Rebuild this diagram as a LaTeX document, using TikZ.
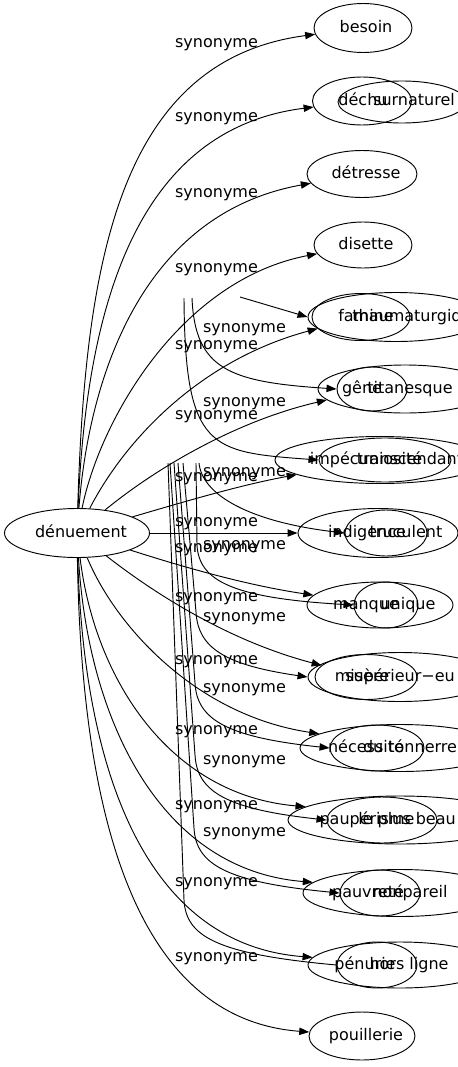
\documentclass[tikz,border=0pt]{standalone}
\usepackage{fontspec}
\setmainfont{DejaVu Sans}
\usetikzlibrary{arrows.meta,shapes.geometric}

\begin{document}
\begin{tikzpicture}[
    x=0.75pt, y=-0.75pt,
    font=\fontsize{12}{14}\selectfont,
    oval/.style 2 args={ellipse, draw, line width=0.7pt, inner sep=0pt, minimum width=#1*0.75pt, minimum height=#2*0.75pt},
    word/.style={inner sep=0pt, text height=8.8pt, text depth=2.6pt},
    rel/.style={inner sep=0pt, text height=8.8pt, text depth=2.6pt},
    arrow/.style={-{Triangle[length=7.5pt, width=5.5pt]}, line width=0.7pt},
    stub/.style={line width=0.7pt}
]
\useasboundingbox (0,0) rectangle (457,1067);

% Source
\node[oval={145}{49}] (den) at (77,533) {};
\node[word] (den_t) at (81,533) {dénuement};

% Targets (first graph)
\node[oval={98}{49}] (besoin) at (363,28) {};
\node[oval={99}{48}] (dechu) at (362,101) {};
\node[oval={110}{47}] (detresse) at (362,174) {};
\node[oval={98}{46}] (disette) at (363,245) {};
\node[oval={98}{47}] (famine) at (361,317) {};
\node[oval={174}{48}] (gene) at (405,389) {};
\node[oval={210}{47}] (impec) at (380,460) {};
\node[oval={160}{49}] (indig) at (378,533) {};
\node[oval={146}{46}] (manque) at (380,605) {};
\node[oval={102}{45}] (misere) at (366,677) {};
\node[oval={200}{47}] (necess) at (400,748) {};
\node[oval={224}{48}] (pauper) at (400,820) {};
\node[oval={194}{47}] (pauvre) at (400,893) {};
\node[oval={184}{46}] (penurie) at (400,965) {};
\node[oval={106}{48}] (pouill) at (362,1036) {};

\node[word] (besoin_t) at (366,28) {besoin};
\node[word] (dechu_t) at (363,101) {déchu};
\node[word] (detresse_t) at (366,174) {détresse};
\node[word] (disette_t) at (366,245) {disette};
\node[word] (famine_t) at (366,317) {famine};
\node[word] (gene_t) at (362,389) {gêne};
\node[word] (impec_t) at (366,460) {impécuniosité};
\node[word] (indig_t) at (367,533) {indigence};
\node[word] (manque_t) at (366,605) {manque};
\node[word] (misere_t) at (362,677) {misère};
\node[word] (necess_t) at (366,748) {nécessité};
\node[word] (pauper_t) at (367,820) {paupérisme};
\node[word] (pauvre_t) at (368,893) {pauvreté};
\node[word] (penurie_t) at (365,965) {pénurie};
\node[word] (pouill_t) at (366,1036) {pouillerie};

% Targets (second graph, drawn over)
\node[oval={128}{42}] (surnat) at (402,102) {};
\node[oval={176}{49}] (thaum) at (396,317) {};
\node[oval={70}{44}] (titan) at (372,389) {};
\node[oval={132}{44}] (transc) at (385,460) {};
\node[oval={82}{46}] (trucul) at (386,533) {};
\node[oval={64}{46}] (unique) at (386,605) {};
\node[oval={184}{49}] (superi) at (400,677) {};
\node[oval={94}{46}] (tonner) at (377,748) {};
\node[oval={110}{46}] (plusbeau) at (382,820) {};
\node[oval={80}{46}] (nonpar) at (380,893) {};
\node[oval={80}{46}] (horslig) at (377,965) {};

\node[word] (surnat_t) at (414,101) {surnaturel};
\node[word] (thaum_t) at (417,317) {thaumaturgique};
\node[word] (titan_t) at (410,389) {titanesque};
\node[word] (transc_t) at (410,460) {transcendant};
\node[word] (trucul_t) at (406,533) {truculent};
\node[word] (unique_t) at (408,605) {unique};
\node[word] (superi_t) at (400,677) {supérieur−eu};
\node[word] (tonner_t) at (410,748) {du tonnerre};
\node[word] (plusbeau_t) at (407,820) {le plus beau};
\node[word] (nonpar_t) at (410,893) {nonpareil};
\node[word] (horslig_t) at (409,965) {hors ligne};

% Arrows from dénuement
\draw[arrow] (den) .. controls (85,260) and (120,60) .. (besoin);
\draw[arrow] (den) .. controls (86,320) and (130,130) .. (dechu);
\draw[arrow] (den) .. controls (88,390) and (135,215) .. (detresse);
\draw[arrow] (den) .. controls (100,420) and (180,280) .. (disette);
\draw[arrow] (den) .. controls (125,440) and (200,360) .. (famine);
\draw[arrow] (den) .. controls (160,465) and (240,420) .. (gene.188);
\draw[arrow] (den) .. controls (180,503) and (240,485) .. (impec.190);
\draw[arrow] (den) -- (indig);
\draw[arrow] (den) .. controls (180,566) and (245,585) .. (manque);
\draw[arrow] (den) .. controls (150,590) and (225,640) .. (misere);
\draw[arrow] (den) .. controls (115,625) and (195,715) .. (necess.170);
\draw[arrow] (den) .. controls (95,680) and (170,795) .. (pauper.172);
\draw[arrow] (den) .. controls (88,720) and (160,870) .. (pauvre.173);
\draw[arrow] (den) .. controls (84,780) and (150,945) .. (penurie.175);
\draw[arrow] (den) .. controls (82,850) and (150,1020) .. (pouill);

% Labels
\node[rel] (l1) at (216.5,43) {synonyme};
\node[rel] (l2) at (216.5,117) {synonyme};
\node[rel] (l3) at (216.5,193) {synonyme};
\node[rel] (l4) at (216.5,268) {synonyme};
\node[rel] (l5) at (216.5,345) {synonyme};
\node[rel] (l6) at (216.5,415) {synonyme};
\node[rel] (l7) at (216.5,477) {synonyme};
\node[rel] (l8) at (216.5,522) {synonyme};
\node[rel] (l9) at (216.5,548) {synonyme};
\node[rel] (l10) at (216.5,597) {synonyme};
\node[rel] (l11) at (216.5,660) {synonyme};
\node[rel] (l12) at (216.5,730) {synonyme};
\node[rel] (l13) at (216.5,805) {synonyme};
\node[rel] (l14) at (216.5,882) {synonyme};
\node[rel] (l15) at (216.5,957) {synonyme};

% Second graph edges (cut off at the top)
\coordinate (s5) at (240,297);
\coordinate (s6) at (192,298);
\coordinate (s7) at (184,298);
\coordinate (s8) at (199,463);
\coordinate (s9) at (196,463);
\coordinate (s10) at (183,463);
\coordinate (s11) at (178,463);
\coordinate (s12) at (174,463);
\coordinate (s13) at (170,463);
\coordinate (s14) at (168,463);

\draw[arrow] (s5) -- (thaum.west);
\draw[arrow] (s6) .. controls (195,370) and (230,382) .. (titan.west);
\draw[arrow] (s7) .. controls (185,450) and (210,452) .. (transc.west);
\draw[arrow] (s8) .. controls (202,495) and (250,522) .. (trucul.west);
\draw[arrow] (s9) -- (197,545) .. controls (199,580) and (230,598) .. (unique.west);
\draw[arrow] (s10) -- (196,612) .. controls (198,648) and (225,665) .. (superi.west);
\draw[arrow] (s11) -- (195,683) .. controls (197,719) and (225,737) .. (tonner.west);
\draw[arrow] (s12) -- (195,755) .. controls (197,791) and (225,809) .. (plusbeau.west);
\draw[arrow] (s13) -- (194,828) .. controls (196,864) and (225,882) .. (nonpar.west);
\draw[stub] (s14) -- (184,900) .. controls (186,936) and (215,954) .. (horslig.west);

\node[rel] (m5) at (244.5,328) {synonyme};
\node[rel] (m6) at (244.5,402) {synonyme};
\node[rel] (m7) at (244.5,472) {synonyme};
\node[rel] (m8) at (244.5,545) {synonyme};
\node[rel] (m9) at (244.5,617) {synonyme};
\node[rel] (m10) at (244.5,688) {synonyme};
\node[rel] (m11) at (244.5,760) {synonyme};
\node[rel] (m12) at (244.5,832) {synonyme};

\end{tikzpicture}
\end{document}
